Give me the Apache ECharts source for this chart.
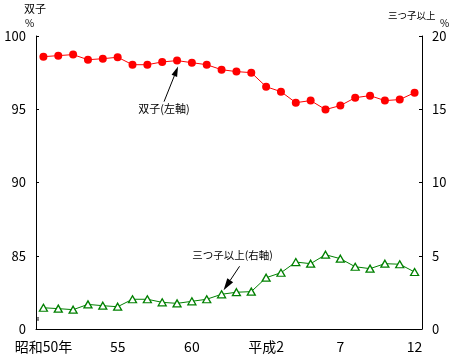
<!DOCTYPE html>
<html><head><meta charset="utf-8">
<script src="https://cdn.jsdelivr.net/npm/echarts@6/dist/echarts.min.js"></script>
<style>html,body{margin:0;padding:0;background:#fff}#c{width:451px;height:358px}</style>
</head><body><div id="c"></div>
<script>
const categories = ['昭和50年','51','52','53','54','55','56','57','58','59','60','61','62','63','平成元','平成2','3','4','5','6','7','8','9','10','11','12'];
const twins = [98.59,98.66,98.73,98.38,98.45,98.55,98.04,98.04,98.23,98.32,98.18,98.04,97.70,97.57,97.50,96.54,96.20,95.45,95.59,94.98,95.25,95.79,95.93,95.59,95.66,96.13];
const triplets = [1.45,1.39,1.32,1.68,1.59,1.52,2.03,2.03,1.82,1.75,1.89,2.03,2.37,2.51,2.55,3.50,3.84,4.57,4.46,5.07,4.80,4.25,4.12,4.46,4.42,3.89];
const leftTicks = {min:80, max:100, interval:5};
const rightTicks = {min:0, max:20, interval:5};

const FONT = '"Noto Sans CJK JP", sans-serif';
const chart = echarts.init(document.getElementById('c'));
const axisCommon = {
  axisLine:{show:true, lineStyle:{color:'#000', width:1}},
  axisTick:{show:true, inside:true, length:3, lineStyle:{color:'#000'}},
  splitLine:{show:false},
  axisLabel:{color:'#000', fontSize:13, fontFamily:FONT}
};
chart.setOption({
  animation:false,
  grid:{left:36, right:29, top:36, bottom:29, containLabel:false},
  xAxis:{type:'category', data:categories, boundaryGap:true,
    axisLine:{lineStyle:{color:'#000'}},
    axisTick:{inside:true, length:3, interval:0, lineStyle:{color:'#000'}},
    axisLabel:{interval:4, color:'#000', fontSize:14, fontFamily:FONT, margin:11}},
  yAxis:[
    Object.assign({type:'value', position:'left'}, leftTicks, axisCommon,
      {axisLabel:Object.assign({}, axisCommon.axisLabel, {margin:10, formatter:v=>v===80?'0':String(v)})}),
    Object.assign({type:'value', position:'right'}, rightTicks, axisCommon,
      {axisLabel:Object.assign({}, axisCommon.axisLabel, {margin:10})})
  ],
  series:[
    {type:'line', name:'双子', yAxisIndex:0, data:twins, symbol:'circle', symbolSize:8,
     itemStyle:{color:'#ff0000'}, lineStyle:{color:'#ff0000', width:1}},
    {type:'line', name:'三つ子以上', yAxisIndex:1, data:triplets, symbol:'triangle', symbolSize:[8,7],
     itemStyle:{color:'#fff', borderColor:'#008000', borderWidth:1.3}, lineStyle:{color:'#008000', width:1}}
  ]
});

function px(series, idx, val){
  return chart.convertToPixel({seriesIndex:series}, [idx, val]);
}
function arrow(tail, tip, L, w){
  const dx = tip[0]-tail[0], dy = tip[1]-tail[1];
  const len = Math.hypot(dx,dy), ux=dx/len, uy=dy/len, nx=-uy, ny=ux;
  const bx = tip[0]-L*ux, by = tip[1]-L*uy;
  return [
    {type:'line', shape:{x1:tail[0], y1:tail[1], x2:bx, y2:by}, style:{stroke:'#000', lineWidth:1}},
    {type:'polygon', shape:{points:[tip,[bx+w*nx,by+w*ny],[bx-w*nx,by-w*ny]]}, style:{fill:'#000'}}
  ];
}
const p9 = px(0, 9, twins[9]);
const p12 = px(1, 12, triplets[12]);
const tw = arrow([p9[0]-13, p9[1]+41], [p9[0]+1, p9[1]+6], 10, 3);
const tr = arrow([p12[0]+18, p12[1]-28], [p12[0]+2, p12[1]-4], 12, 3.5);
const yTop = chart.convertToPixel({yAxisIndex:0}, 81.23);
const yBot = chart.convertToPixel({yAxisIndex:0}, 80.14);
const xL = chart.convertToPixel({xAxisIndex:0}, 0) - 7.4;
const yMid = (yTop+yBot)/2;
chart.setOption({graphic:[
  ...tw, ...tr,
  {type:'text', x:p9[0]-13, y:p9[1]+48, style:{text:'双子(左軸)', font:'11px '+FONT, fill:'#000', align:'center', verticalAlign:'middle'}},
  {type:'text', x:p12[0]+11, y:p12[1]-39, style:{text:'三つ子以上(右軸)', font:'10.5px '+FONT, fill:'#000', align:'center', verticalAlign:'middle'}},
  {type:'rect', shape:{x:xL-1.5, y:yTop, width:3, height:yBot-yTop}, style:{fill:'#fff'}},
  {type:'line', shape:{x1:xL, y1:yMid-1, x2:xL+3, y2:yMid-1}, style:{stroke:'#000', lineWidth:1}},
  {type:'line', shape:{x1:xL, y1:yMid+1, x2:xL+3, y2:yMid+1}, style:{stroke:'#000', lineWidth:1}},
  {type:'text', x:24, y:9, style:{text:'双子', font:'11px '+FONT, fill:'#000', verticalAlign:'middle'}},
  {type:'text', x:25, y:23, style:{text:'%', font:'10px '+FONT, fill:'#000', verticalAlign:'middle'}},
  {type:'text', x:388, y:15, style:{text:'三つ子以上', font:'9.5px '+FONT, fill:'#000', verticalAlign:'middle'}},
  {type:'text', x:440, y:23, style:{text:'%', font:'10px '+FONT, fill:'#000', verticalAlign:'middle'}}
]});
</script></body></html>
